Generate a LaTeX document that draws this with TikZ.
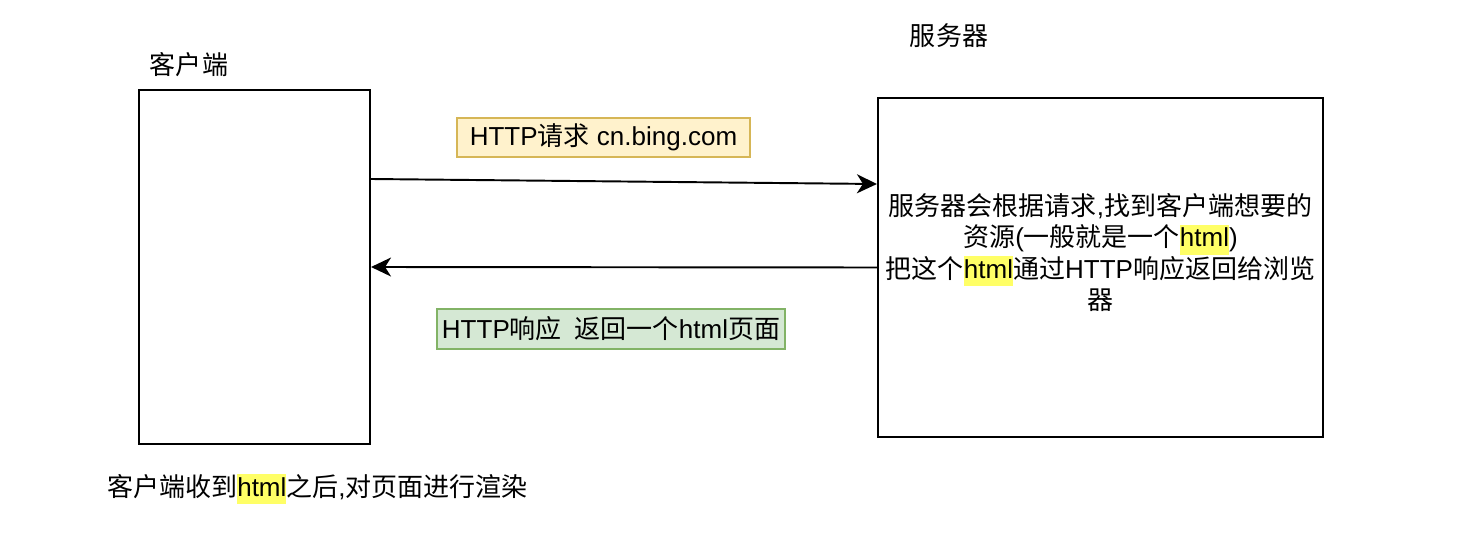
\documentclass[tikz,border=0pt]{standalone}
\usepackage{fontspec}
\setmainfont{Liberation Sans}
\newfontfamily\cjk{Noto Sans CJK SC}
\usetikzlibrary{arrows.meta}
\usepackage{xcolor}
\definecolor{reqfill}{HTML}{FFF2CC}
\definecolor{reqline}{HTML}{D6B656}
\definecolor{resfill}{HTML}{D5E8D4}
\definecolor{resline}{HTML}{82B366}
\definecolor{hlyellow}{HTML}{FFFF66}
\newcommand{\zh}[1]{{\cjk #1}}
\newcommand{\hlhtml}{{\setlength{\fboxsep}{0pt}\colorbox{hlyellow}{\rule[-0.3em]{0pt}{1.15em}html}}}

\begin{document}
\begin{tikzpicture}[
  font=\fontsize{14.8pt}{17.9pt}\selectfont,
  box/.style={draw, line width=1.2pt, inner sep=0pt},
  tag/.style={draw, line width=1.2pt, inner sep=0pt},
  msg/.style={-{Stealth[length=0.4cm, width=0.38cm, inset=0.12cm]}, line width=1.1pt}
]
  \useasboundingbox (0,0) rectangle (29.32,-10.86);

  \node[box, minimum width=4.62cm, minimum height=7.08cm] (client) at (5.09,-5.34) {};
  \node[box, minimum width=8.9cm, minimum height=6.78cm] (server) at (22.01,-5.35) {};

  \node (clientlabel) at (3.78,-1.3) {\zh{客户端}};
  \node (serverlabel) at (18.98,-0.72) {\zh{服务器}};

  \node[align=center] (servertext) at (22.01,-5.05) {%
    \zh{服务器会根据请求},\zh{找到客户端想要的}\\
    \zh{资源}(\zh{一般就是一个}\hlhtml)\\
    \zh{把这个}\hlhtml\zh{通过}HTTP\zh{响应返回给浏览}\\
    \zh{器}};

  \node[tag, fill=reqfill, draw=reqline, minimum width=5.86cm, minimum height=0.78cm] (req) at (12.07,-2.75) {HTTP\zh{请求} cn.bing.com};
  \node[tag, fill=resfill, draw=resline, minimum width=6.96cm, minimum height=0.8cm] (res) at (12.22,-6.58) {HTTP\zh{响应}\hspace{0.5em}\zh{返回一个}html\zh{页面}};

  \draw[msg] ([yshift=1.76cm]client.east) -- ([yshift=1.67cm]server.west);
  \draw[msg] (server.west) -- (client.east);

  \node (render) at (6.35,-9.78) {\zh{客户端收到}\hlhtml\zh{之后},\zh{对页面进行渲染}};
\end{tikzpicture}
\end{document}
